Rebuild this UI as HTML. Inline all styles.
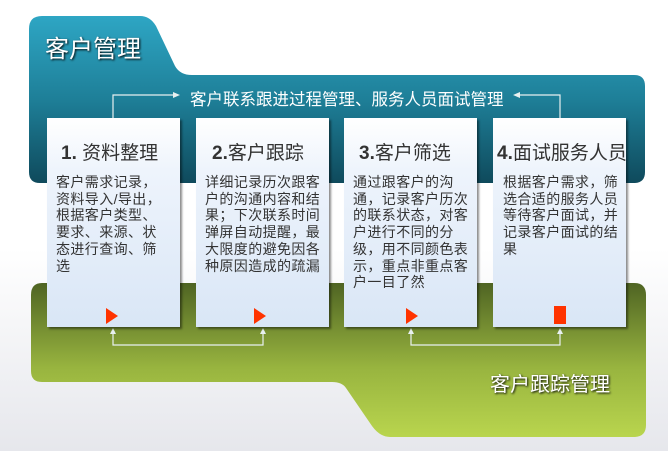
<!DOCTYPE html>
<html><head><meta charset="utf-8"><style>
*{margin:0;padding:0}
body{width:668px;height:451px;overflow:hidden;position:relative;background:linear-gradient(#fff 0%,#fff 55%,#e6e7ec 100%);font-family:"Liberation Sans","Noto Sans CJK SC",sans-serif}
svg{position:absolute;left:0;top:0}
.card{position:absolute;top:118px;width:133px;height:209px;background:linear-gradient(#fff 0%,#eef4fc 25%,#d9e6f6 100%);box-shadow:2px 2px 2px rgba(0,0,0,.45)}
.t{position:absolute;top:138px;font-size:19px;color:#333;white-space:nowrap}
.b{position:absolute;top:174px;font-size:14px;line-height:16.7px;color:#333;letter-spacing:.4px}
.h{position:absolute;color:#fff;font-size:22px;text-shadow:1px 1px 2px #000}
</style></head><body>
<svg width="668" height="451">
<defs>
<linearGradient id="tg" x1="0" y1="0" x2="0" y2="1"><stop offset="0" stop-color="#2ea6c4"/><stop offset=".5" stop-color="#1e7f98"/><stop offset="1" stop-color="#0f4a5c"/></linearGradient>
<linearGradient id="gg" x1="0" y1="0" x2="0" y2="1"><stop offset="0" stop-color="#4f6423"/><stop offset=".55" stop-color="#98b43f"/><stop offset="1" stop-color="#b9d54e"/></linearGradient>
</defs>
<path d="M42 16 H140 Q150 16 156 26 L175 66 Q180 75 192 75 H634 Q645 75 645 86 V172 Q645 183 634 183 H40 Q29 183 29 172 V29 Q29 16 42 16Z" fill="url(#tg)"/>
<path d="M42 283 H634 Q646 283 646 295 V425 Q646 437 634 437 H390 Q380 437 372 426 L346 388 Q342 382 332 382 H42 Q31 382 31 371 V295 Q31 283 42 283Z" fill="url(#gg)"/>
<g stroke="#e8f0f0" stroke-width="1.2" fill="none">
<polyline points="113,118 113,95 174,95"/><polyline points="560,118 560,95 519,95"/>
<polyline points="113,333 113,345 263,345 263,333"/><polyline points="411,333 411,345 560,345 560,333"/>
</g>
<g fill="#e8f0f0">
<polygon points="180,95 173,92 173,98"/><polygon points="513,95 520,92 520,98"/>
<polygon points="113,328 110,334 116,334"/><polygon points="263,328 260,334 266,334"/>
<polygon points="411,328 408,334 414,334"/><polygon points="560,328 557,334 563,334"/>
</g>
</svg>
<div class="h" style="left:45px;top:29px;font-size:24px">客户管理</div>
<div class="h" style="left:490px;top:368px;font-size:20px">客户跟踪管理</div>
<div style="position:absolute;left:190px;top:86px;color:#fff;font-size:16.5px;white-space:nowrap">客户联系跟进过程管理、服务人员面试管理</div>
<div class="card" style="left:47px"></div><div class="card" style="left:196px"></div><div class="card" style="left:344px"></div><div class="card" style="left:493px"></div>
<div class="t" style="left:61px"><b>1.</b> 资料整理</div>
<div class="t" style="left:212px"><b>2.</b>客户跟踪</div>
<div class="t" style="left:359px"><b>3.</b>客户筛选</div>
<div class="t" style="left:497px"><b>4.</b>面试服务人员</div>
<div class="b" style="left:56px;width:118px">客户需求记录，<br>资料导入/导出，<br>根据客户类型、<br>要求、来源、状<br>态进行查询、筛<br>选</div>
<div class="b" style="left:205px;width:124px">详细记录历次跟客<br>户的沟通内容和结<br>果；下次联系时间<br>弹屏自动提醒，最<br>大限度的避免因各<br>种原因造成的疏漏</div>
<div class="b" style="left:353px;width:124px">通过跟客户的沟<br>通，记录客户历次<br>的联系状态，对客<br>户进行不同的分<br>级，用不同颜色表<br>示，重点非重点客<br>户一目了然</div>
<div class="b" style="left:503px;width:124px">根据客户需求，筛<br>选合适的服务人员<br>等待客户面试，并<br>记录客户面试的结<br>果</div>
<svg width="668" height="451" style="pointer-events:none">
<g fill="#ff3300">
<polygon points="106,308 118,316 106,324"/><polygon points="254,308 266,316 254,324"/><polygon points="406,308 418,316 406,324"/>
<rect x="554" y="306" width="12" height="18"/>
</g></svg>
</body></html>
